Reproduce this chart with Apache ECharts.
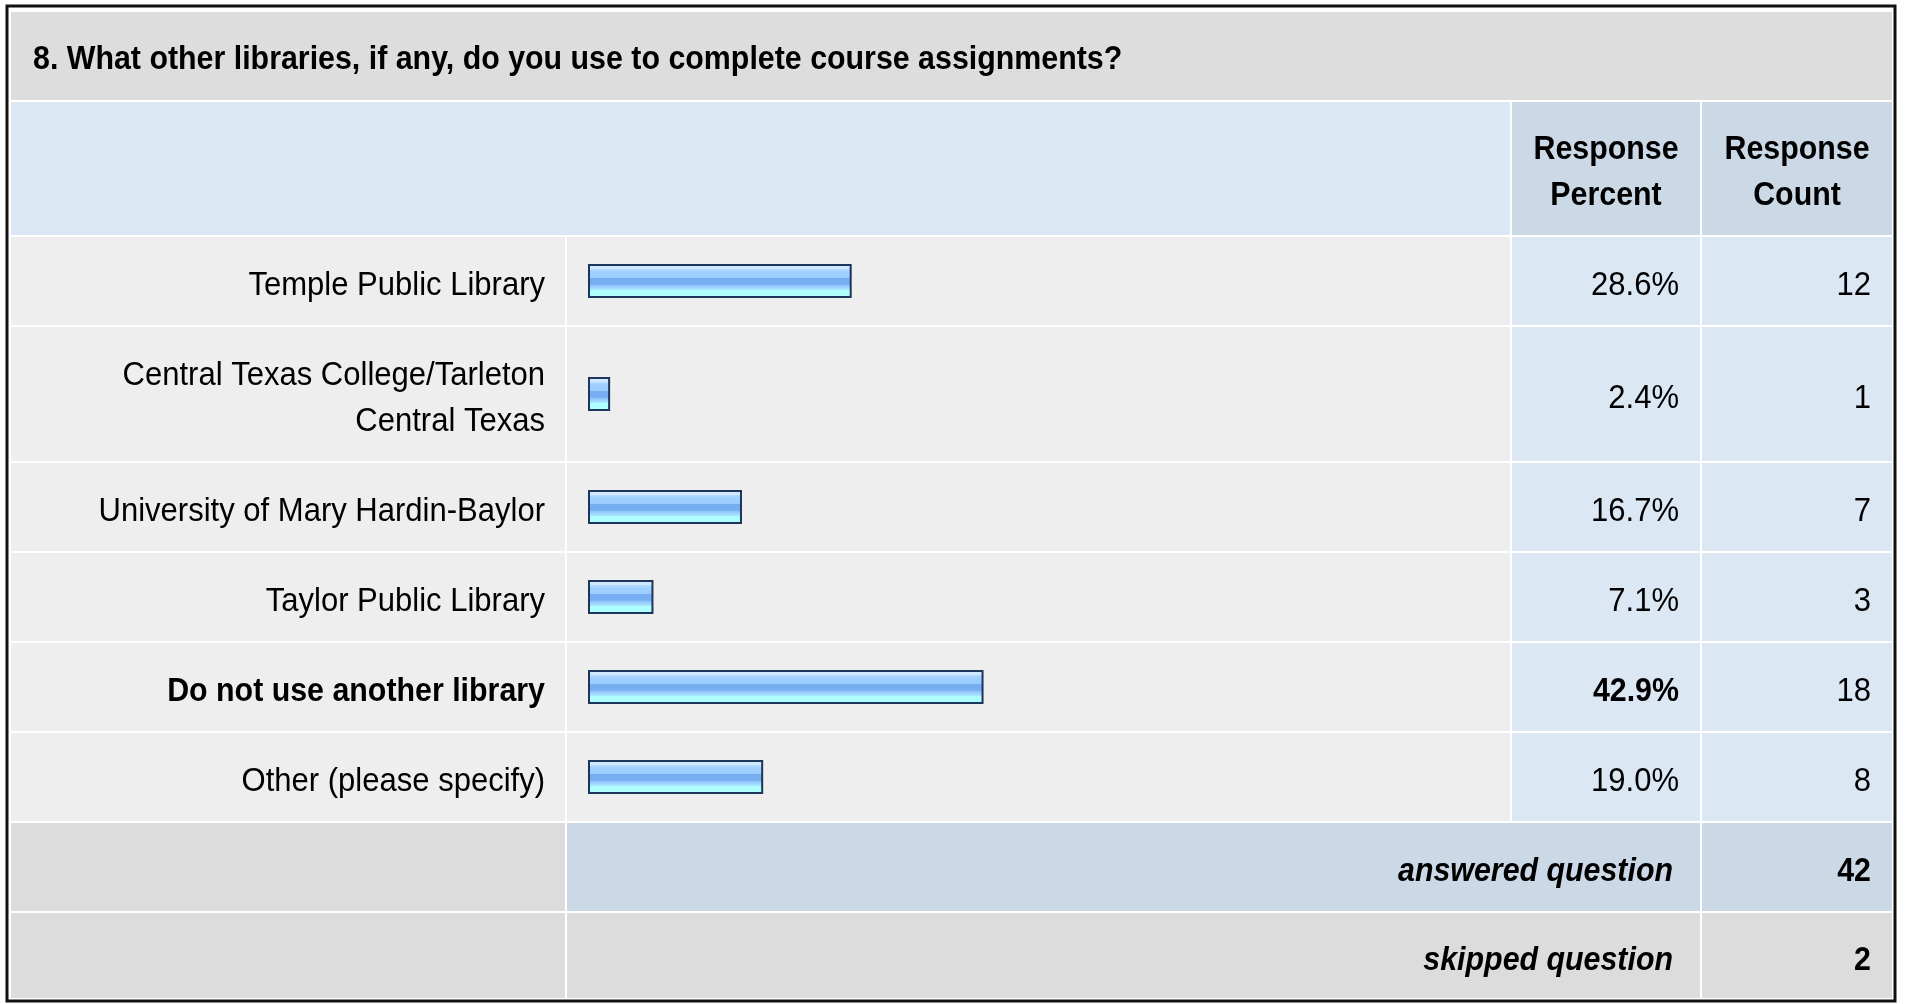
<!DOCTYPE html>
<html>
<head>
<meta charset="utf-8">
<title>Other libraries</title>
<script src="https://cdn.jsdelivr.net/npm/echarts@6/dist/echarts.min.js"></script>
<style>
  html, body { margin: 0; padding: 0; background: #fff; }
  #chart { width: 1907px; height: 1004px; }
</style>
</head>
<body>
<div id="chart"></div>
<script>
(function () {
  "use strict";

  // Data
  const title = '8. What other libraries, if any, do you use to complete course assignments?';
  const categories = [
    'Temple Public Library',
    'Central Texas College/Tarleton\nCentral Texas',
    'University of Mary Hardin-Baylor',
    'Taylor Public Library',
    'Do not use another library',
    'Other (please specify)'
  ];
  const percents = [28.6, 2.4, 16.7, 7.1, 42.9, 19.0];
  const counts = [12, 1, 7, 3, 18, 8];
  const boldRow = 4;
  const headers = ['Response\nPercent', 'Response\nCount'];
  const summaryLabels = ['answered question', 'skipped question'];
  const summaryValues = [42, 2];

  // Layout (px)
  const col = { l0: 11, l1: 565, b0: 567, b1: 1510, p0: 1512, p1: 1700, c0: 1702, c1: 1892 };
  const rowTop = [237, 327, 463, 553, 643, 733];
  const rowH = [88, 134, 88, 88, 88, 88];
  const sumTop = [823, 913];
  const sumH = [88, 85];
  const barLeft = 588, barSpan = 922;
  const dy = 5; // text baseline nudge

  const FONT = '"Liberation Sans", Arial, sans-serif';
  const REG = '33px ' + FONT, BOLD = 'bold 33px ' + FONT;
  const SX_REG = 0.94, SX_BOLD = 0.92;
  const C = {
    title: '#dddddd', head: '#dce7f4', headDark: '#cbd8e6',
    cell: '#eeeeee', cellBlue: '#dce7f4', gray: '#dcdcdc', frame: '#111'
  };

  const barFill = new echarts.graphic.LinearGradient(0, 0, 0, 1, [
    { offset: 0, color: '#d3eaff' },
    { offset: 0.14, color: '#cfe7ff' },
    { offset: 0.15, color: '#b5dcff' },
    { offset: 0.24, color: '#9fcfff' },
    { offset: 0.4, color: '#9ccdff' },
    { offset: 0.41, color: '#75adf0' },
    { offset: 0.6, color: '#77b0f2' },
    { offset: 0.62, color: '#8fc3fa' },
    { offset: 0.7, color: '#a0d6ff' },
    { offset: 0.77, color: '#a8f0ff' },
    { offset: 0.78, color: '#b0ffff' },
    { offset: 1, color: '#b0ffff' }
  ]);

  const rect = (x0, y0, x1, y1, fill) => ({
    type: 'rect', shape: { x: x0, y: y0, width: x1 - x0, height: y1 - y0 },
    style: { fill }, silent: true
  });
  const text = (x, y, str, bold, opts) => ({
    type: 'text', x, y: y + dy, silent: true,
    scaleX: bold ? SX_BOLD : SX_REG,
    style: Object.assign({
      text: str, font: bold ? BOLD : REG, fill: '#000',
      align: 'right', verticalAlign: 'middle'
    }, opts || {})
  });

  const graphics = [];
  // outer frame
  graphics.push({
    type: 'rect', shape: { x: 7, y: 6, width: 1888, height: 995 },
    style: { fill: '#fff', stroke: C.frame, lineWidth: 3 }, silent: true
  });
  // title row
  graphics.push(rect(col.l0, 12, col.c1, 100, C.title));
  graphics.push(text(33, 55, title, true, { align: 'left' }));
  // header row
  graphics.push(rect(col.l0, 102, col.b1, 235, C.head));
  graphics.push(rect(col.p0, 102, col.p1, 235, C.headDark));
  graphics.push(rect(col.c0, 102, col.c1, 235, C.headDark));
  graphics.push(text((col.p0 + col.p1) / 2, 168, headers[0], true, { align: 'center', lineHeight: 46 }));
  graphics.push(text((col.c0 + col.c1) / 2, 168, headers[1], true, { align: 'center', lineHeight: 46 }));

  // data rows
  categories.forEach((name, i) => {
    const y0 = rowTop[i], y1 = rowTop[i] + rowH[i], cy = y0 + rowH[i] / 2;
    const bold = i === boldRow;
    graphics.push(rect(col.l0, y0, col.l1, y1, C.cell));
    graphics.push(rect(col.b0, y0, col.b1, y1, C.cell));
    graphics.push(rect(col.p0, y0, col.p1, y1, C.cellBlue));
    graphics.push(rect(col.c0, y0, col.c1, y1, C.cellBlue));
    graphics.push(text(545, cy, name, bold, { lineHeight: 46 }));
    graphics.push(text(1679, cy, percents[i].toFixed(1) + '%', bold));
    graphics.push(text(1871, cy, String(counts[i]), false));
  });

  // summary rows
  summaryLabels.forEach((lab, i) => {
    const y0 = sumTop[i], y1 = sumTop[i] + sumH[i], cy = y0 + sumH[i] / 2;
    const fill = i === 0 ? C.headDark : C.gray;
    graphics.push(rect(col.l0, y0, col.l1, y1, C.gray));
    graphics.push(rect(col.b0, y0, col.p1, y1, fill));
    graphics.push(rect(col.c0, y0, col.c1, y1, fill));
    graphics.push(text(1673, cy, lab, true, { font: 'italic ' + BOLD }));
    graphics.push(text(1871, cy, String(summaryValues[i]), true));
  });

  // one grid per row, so each bar sits centred in its own row
  const grids = [], xAxes = [], yAxes = [], series = [];
  categories.forEach((name, i) => {
    grids.push({ left: barLeft, top: rowTop[i], width: barSpan, height: rowH[i] });
    xAxes.push({ gridIndex: i, type: 'value', min: 0, max: 100, show: false });
    yAxes.push({ gridIndex: i, type: 'category', data: [name], show: false });
    series.push({
      type: 'bar', xAxisIndex: i, yAxisIndex: i,
      data: [percents[i]], barWidth: 34, barMinWidth: 1, z: 5,
      itemStyle: { color: barFill, borderColor: '#1d355a', borderWidth: 2 },
      emphasis: { disabled: true }
    });
  });

  const chart = echarts.init(document.getElementById('chart'));
  chart.setOption({
    animation: false,
    backgroundColor: '#fff',
    grid: grids,
    xAxis: xAxes,
    yAxis: yAxes,
    series,
    graphic: { elements: graphics }
  });
})();
</script>
</body>
</html>
